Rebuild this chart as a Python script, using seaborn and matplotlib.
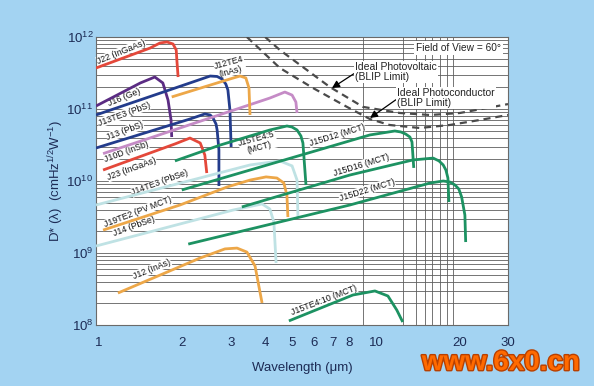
import matplotlib
matplotlib.use("Agg")
import matplotlib.pyplot as plt
import matplotlib.patheffects as pe
import seaborn as sns
from matplotlib.ticker import FixedLocator, NullFormatter, LogFormatterSciNotation, LogLocator

# ---------------- data (wavelength in um, D* in cm Hz^1/2 W^-1) ----------------
j22_wl = [0.975, 1.53, 1.66, 1.76, 1.85, 1.90, 1.91, 1.93]
j22_d = [3.71e11, 7.03e11, 8.26e11, 8.53e11, 8.0e11, 6.6e11, 4.8e11, 2.78e11]

j16_wl = [0.975, 1.41, 1.59, 1.70, 1.775, 1.82, 1.83]
j16_d = [1.10e11, 2.30e11, 2.78e11, 2.30e11, 1.33e11, 7.03e10, 4.08e10]

j13te3_wl = [0.975, 2.13, 2.52, 2.67, 2.78, 2.87, 2.92, 2.97, 3.00]
j13te3_d = [8.26e10, 2.30e11, 2.87e11, 2.83e11, 2.61e11, 2.22e11, 1.84e11, 9.68e10, 2.97e10]

j13_wl = [0.975, 2.13, 2.41, 2.52, 2.58, 2.645, 2.67, 2.71, 2.71]
j13_d = [2.87e10, 7.26e10, 8.53e10, 8.26e10, 7.50e10, 6.19e10, 5.11e10, 2.70e10, 8.53e9]

j10d_wl = [1.034, 4.14, 4.69, 4.98, 5.14, 5.19]
j10d_d = [2.40e10, 1.42e11, 1.72e11, 1.56e11, 1.25e11, 8.80e10]

j23_wl = [1.034, 1.88, 2.13, 2.32, 2.41, 2.45]
j23_d = [1.42e10, 3.27e10, 3.95e10, 3.37e10, 2.30e10, 1.29e10]

j12te4_wl = [1.83, 2.97, 3.23, 3.39, 3.48, 3.51]
j12te4_d = [1.47e11, 2.61e11, 2.87e11, 2.70e11, 1.96e11, 8.26e10]

j14te3_wl = [0.975, 3.51, 4.50, 4.98, 5.19, 5.23]
j14te3_d = [4.64e9, 1.67e10, 1.90e10, 1.62e10, 1.03e10, 3.06e9]

j19te2_wl = [1.034, 1.96, 2.90, 3.51, 4.01, 4.39, 4.65, 4.77, 4.81]
j19te2_d = [2.08e9, 4.64e9, 8.25e9, 1.03e10, 1.14e10, 1.10e10, 9.38e9, 6.39e9, 3.16e9]

j14_wl = [0.975, 3.05, 3.88, 4.14, 4.28, 4.36]
j14_d = [1.25e9, 3.95e9, 4.80e9, 4.08e9, 2.70e9, 7.26e8]

j12_wl = [1.17, 2.32, 2.85, 3.15, 3.42, 3.66, 3.88]
j12_d = [2.78e8, 8.53e8, 1.14e9, 1.17e9, 1.03e9, 6.59e8, 2.02e8]

j15te45_wl = [1.88, 2.74, 4.14, 4.77, 4.975, 5.19, 5.36, 5.45, 5.59]
j15te45_d = [1.90e10, 3.16e10, 5.11e10, 5.81e10, 5.62e10, 5.11e10, 4.22e10, 3.37e10, 8.80e9]

j15d12_wl = [1.99, 9.51, 11.7, 12.3, 12.8, 13.27, 13.5, 13.7]
j15d12_d = [7.50e9, 4.36e10, 4.95e10, 4.80e10, 4.50e10, 4.08e10, 3.48e10, 1.52e10]

j15d16_wl = [3.28, 8.05, 13.6, 16.1, 16.9, 17.5, 17.9, 18.2, 18.35]
j15d16_d = [4.36e9, 1.21e10, 1.96e10, 2.08e10, 1.90e10, 1.67e10, 1.42e10, 1.10e10, 5.11e9]

j15d22_wl = [2.10, 8.05, 15.7, 17.5, 18.5, 19.3, 19.93, 20.4, 20.96, 21.1]
j15d22_d = [1.33e9, 4.64e9, 9.38e9, 1.0e10, 9.68e9, 8.80e9, 7.74e9, 6.0e9, 3.37e9, 1.42e9]

j15te410_wl = [4.85, 8.26, 9.92, 11.05, 11.9, 12.5]
j15te410_d = [1.14e8, 2.61e8, 2.97e8, 2.53e8, 1.61e8, 1.10e8]

blip_pv_wl = [3.98, 4.50, 6.82, 8.98, 12.2, 15.7, 20.1, 30.0]
blip_pv_d = [1.0e12, 6.59e11, 2.02e11, 1.07e11, 8.80e10, 8.26e10, 8.80e10, 1.17e11]

blip_pc_wl = [3.42, 4.50, 5.92, 7.86, 9.51, 11.2, 14.4, 18.5, 23.7, 30.0]
blip_pc_d = [1.0e12, 3.71e11, 1.96e11, 1.07e11, 7.26e10, 6.0e10, 5.45e10, 6.0e10, 7.03e10, 8.26e10]

x_tick_values = [1, 2, 3, 4, 5, 6, 7, 8, 10, 20, 30]
x_tick_labels = ["1", "2", "3", "4", "5", "6", "7", "8", "10", "20", "30"]
x_grid_values = [2, 3, 4, 5, 6, 7, 8, 9, 10, 12.5, 14, 15, 16, 17, 18, 19, 20]
y_tick_values = [1e8, 1e9, 1e10, 1e11, 1e12]

# ---------------- style ----------------
BG = "#a3d3f2"
RED = "#e4483a"
PURPLE = "#5b2c83"
NAVY = "#233c8c"
LILAC = "#c58bc6"
ORANGE = "#eda748"
CYAN = "#bfe2e4"
GREEN = "#1d9262"
DASH = "#4a4a4a"
TXT = "#1c2b55"

sns.set_theme(style="white")
plt.rcParams["font.family"] = ["Liberation Sans", "DejaVu Sans"]
plt.rcParams["mathtext.fontset"] = "custom"
plt.rcParams["mathtext.rm"] = "Liberation Sans"
plt.rcParams["mathtext.it"] = "Liberation Sans:italic"

fig = plt.figure(figsize=(5.94, 3.86), dpi=100, facecolor=BG)
ax = fig.add_axes([96 / 594, 61 / 386, 412 / 594, 288 / 386])
ax.set_facecolor("white")
ax.set_xscale("log")
ax.set_yscale("log")

curves = [
    (j22_wl, j22_d, RED), (j16_wl, j16_d, PURPLE), (j13te3_wl, j13te3_d, NAVY),
    (j13_wl, j13_d, NAVY), (j10d_wl, j10d_d, LILAC), (j23_wl, j23_d, RED),
    (j12te4_wl, j12te4_d, ORANGE), (j14te3_wl, j14te3_d, CYAN),
    (j19te2_wl, j19te2_d, ORANGE), (j14_wl, j14_d, CYAN), (j12_wl, j12_d, ORANGE),
    (j15te45_wl, j15te45_d, GREEN), (j15d12_wl, j15d12_d, GREEN),
    (j15d16_wl, j15d16_d, GREEN), (j15d22_wl, j15d22_d, GREEN),
    (j15te410_wl, j15te410_d, GREEN),
]
for wl, d, c in curves:
    sns.lineplot(x=wl, y=d, ax=ax, color=c, lw=2.0, sort=False, estimator=None,
                 legend=False, solid_joinstyle="round", solid_capstyle="butt", zorder=3)

for wl, d in [(blip_pv_wl, blip_pv_d), (blip_pc_wl, blip_pc_d)]:
    sns.lineplot(x=wl, y=d, ax=ax, color=DASH, lw=1.6, sort=False, estimator=None,
                 legend=False, zorder=3)
for line in ax.lines[-2:]:
    line.set_dashes((3.2, 2.2))

ax.set_xlim(0.975, 30)
ax.set_ylim(1e8, 1e12)

ax.xaxis.set_major_locator(FixedLocator(x_tick_values))
ax.set_xticklabels(x_tick_labels)
ax.xaxis.set_minor_locator(FixedLocator(x_grid_values))
ax.xaxis.set_minor_formatter(NullFormatter())
ax.yaxis.set_major_locator(FixedLocator(y_tick_values))
ax.yaxis.set_major_formatter(LogFormatterSciNotation())
ax.yaxis.set_minor_locator(LogLocator(base=10, subs=[2, 3, 4, 5, 6, 7, 8, 9]))
ax.yaxis.set_minor_formatter(NullFormatter())

ax.grid(False)
ax.xaxis.grid(True, which="minor", color="#5e5e5e", lw=0.6)
ax.yaxis.grid(True, which="both", color="#5e5e5e", lw=0.6)
ax.set_axisbelow(True)
ax.tick_params(which="both", length=0)
ax.tick_params(axis="x", pad=9, labelsize=9.5, labelcolor=TXT)
ax.tick_params(axis="y", pad=2, labelsize=9.5, labelcolor=TXT)
for s in ax.spines.values():
    s.set_color("#6a6a6a")
    s.set_linewidth(0.8)

ax.set_xlabel("Wavelength (\u03bcm)", fontsize=9.5, color=TXT, labelpad=9)
ax.set_ylabel("D* (\u03bb)  (cmHz$^{1/2}$W$^{-1}$)", fontsize=9.5, color=TXT, labelpad=0)


def pos(x, y):
    return ((x - 96) / 412, (325 - y) / 288)


labels = [
    ("J22 (InGaAs)", 121, 52, 22), ("J16 (Ge)", 124, 97, 22),
    ("J13TE3 (PbS)", 124, 114, 20), ("J13 (PbS)", 125, 131, 20),
    ("J10D (InSb)", 126, 152, 20), ("J23 (InGaAs)", 132, 169, 20),
    ("J12TE4\n(InAs)", 230, 67, 15), ("J15TE4:5\n(MCT)", 258, 143, 15),
    ("J14TE3 (PbSe)", 160, 183, 20), ("J19TE2 (PV MCT)", 138, 212, 21),
    ("J14 (PbSe)", 134, 226, 20), ("J12 (InAs)", 152, 269, 22),
    ("J15D12 (MCT)", 337, 135, 17), ("J15D16 (MCT)", 361, 165, 17),
    ("J15D22 (MCT)", 367, 190, 17), ("J15TE4:10 (MCT)", 324, 300, 21),
]
for t, x, y, r in labels:
    ax.text(*pos(x, y), t, transform=ax.transAxes, fontsize=6.3, rotation=r,
            ha="center", va="center", color="#111111", linespacing=0.95,
            rotation_mode="anchor", zorder=2.5,
            bbox=dict(boxstyle="square,pad=0.03", fc="white", ec="none"))

ax.text(*pos(501, 48), "Field of View = 60\u00b0", transform=ax.transAxes, fontsize=7.3,
        ha="right", va="center", color="#222222", zorder=4,
        bbox=dict(boxstyle="square,pad=0.2", fc="white", ec="none"))

arrow = dict(arrowstyle="-|>", color="black", lw=0.9, mutation_scale=11, shrinkA=0, shrinkB=0)
ax.annotate("Ideal Photovoltaic\n(BLIP Limit)", xy=pos(332, 88), xycoords="axes fraction",
            xytext=pos(355, 72), textcoords="axes fraction", fontsize=7.5,
            ha="left", va="center", linespacing=0.95, color="#222222",
            arrowprops=dict(arrow, relpos=(0, 0.45)), zorder=4,
            bbox=dict(boxstyle="square,pad=0.1", fc="white", ec="none"))
ax.annotate("Ideal Photoconductor\n(BLIP Limit)", xy=pos(370, 118), xycoords="axes fraction",
            xytext=pos(397, 98), textcoords="axes fraction", fontsize=7.5,
            ha="left", va="center", linespacing=0.95, color="#222222",
            arrowprops=dict(arrow, relpos=(0, 0.45)), zorder=4,
            bbox=dict(boxstyle="square,pad=0.1", fc="white", ec="none"))

fig.text(501 / 594, 23 / 386, "www.6x0.cn", fontsize=20, fontweight="bold",
         color="#ff6a00", ha="center", va="center",
         path_effects=[pe.withStroke(linewidth=2, foreground="#b84000")])

fig.savefig("out.png", dpi=100, facecolor=BG)
